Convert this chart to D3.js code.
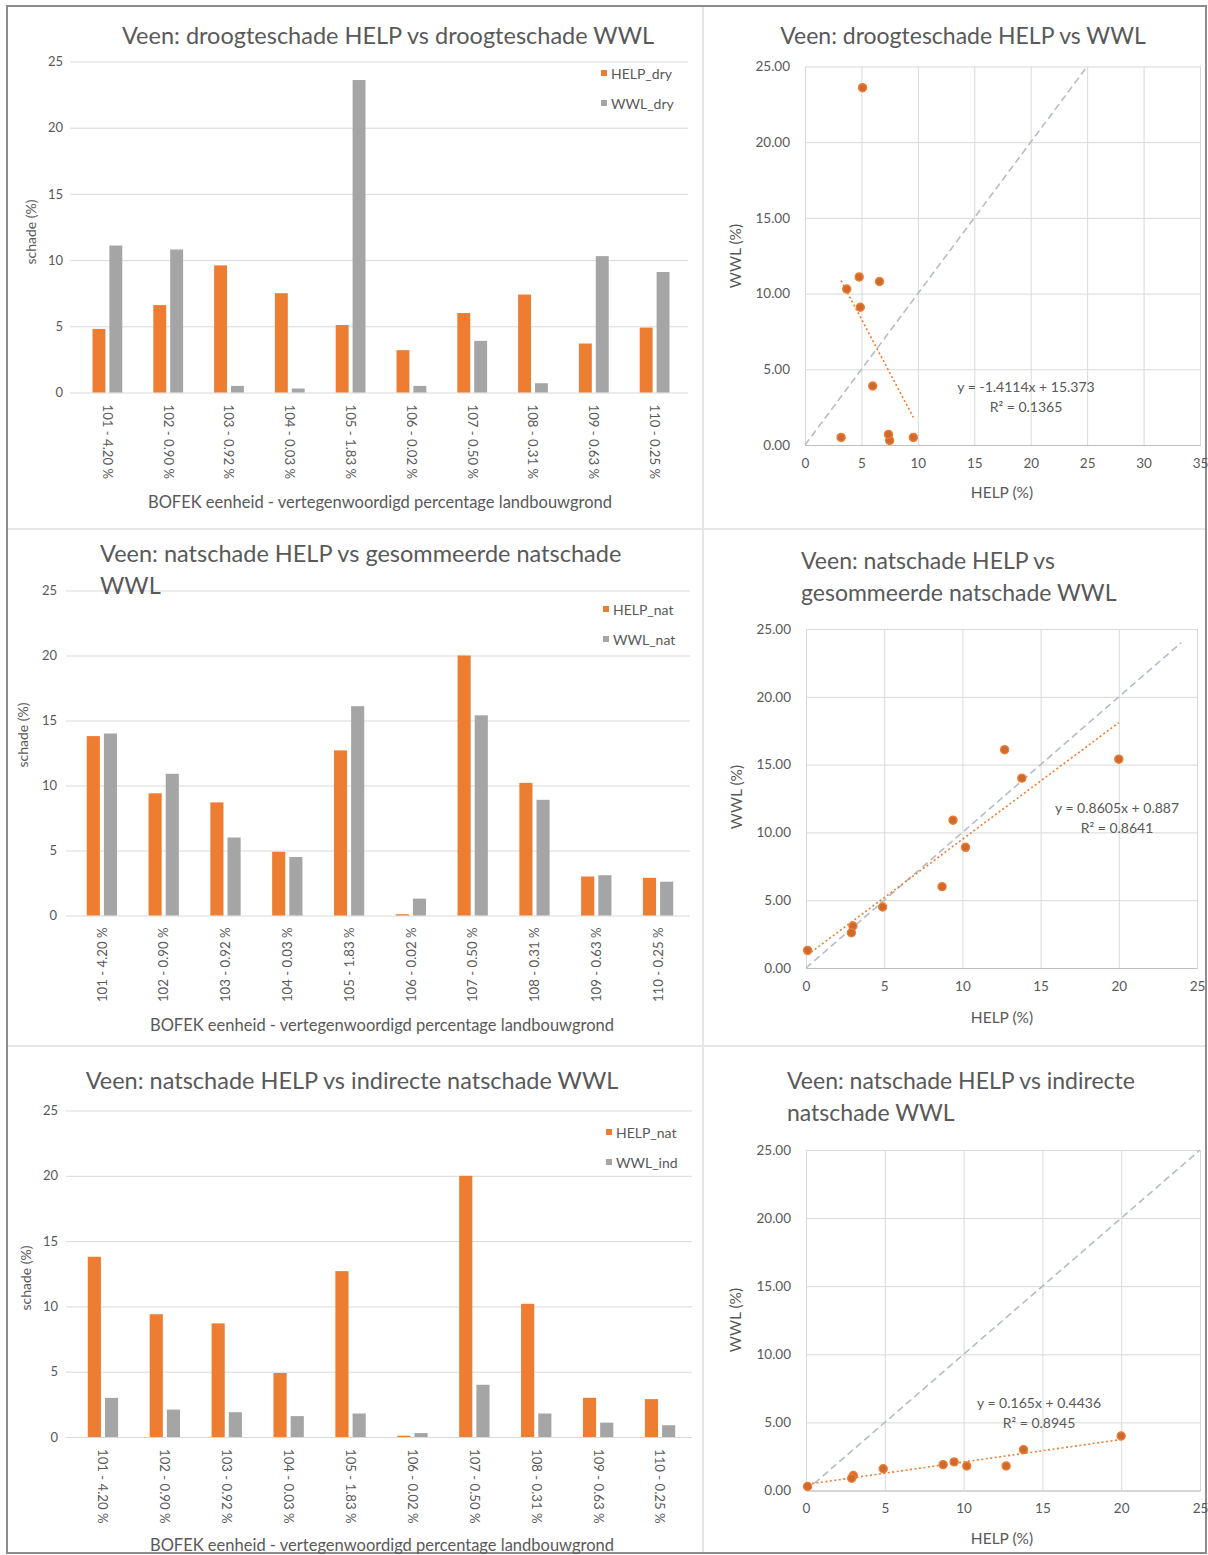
<!DOCTYPE html>
<html>
<head>
<meta charset="utf-8">
<script src="https://cdn.jsdelivr.net/npm/d3@7"></script>
<style>
  body { margin: 0; background: #ffffff; }
  svg text { font-family: Lato, "Open Sans", sans-serif; fill: #595959; }
</style>
</head>
<body>
<svg id="chart" width="1208" height="1555"></svg>
<script>
// BOFEK units (peat soils) with their share of agricultural land
const categories = ["101 - 4.20 %", "102 - 0.90 %", "103 - 0.92 %", "104 - 0.03 %", "105 - 1.83 %",
                    "106 - 0.02 %", "107 - 0.50 %", "108 - 0.31 %", "109 - 0.63 %", "110 - 0.25 %"];

// damage percentages per unit
const helpDry = [4.8, 6.6, 9.6, 7.5, 5.1, 3.2, 6.0, 7.4, 3.7, 4.9];
const wwlDry  = [11.1, 10.8, 0.5, 0.3, 23.6, 0.5, 3.9, 0.7, 10.3, 9.1];
const helpNat = [13.8, 9.4, 8.7, 4.9, 12.7, 0.1, 20.0, 10.2, 3.0, 2.9];
const wwlNat  = [14.0, 10.9, 6.0, 4.5, 16.1, 1.3, 15.4, 8.9, 3.1, 2.6];
const wwlInd  = [3.0, 2.1, 1.9, 1.6, 1.8, 0.3, 4.0, 1.8, 1.1, 0.9];

// axis ticks
const barTicks = [0, 5, 10, 15, 20, 25];
const scatterTicksY = [0, 5, 10, 15, 20, 25];
const scatterTicksXWide = [0, 5, 10, 15, 20, 25, 30, 35];
const scatterTicksXNarrow = [0, 5, 10, 15, 20, 25];

// linear trendlines (slope, intercept, R²) for the three scatter plots
const fitSlopes = [-1.4114, 0.8605, 0.165];
const fitIntercepts = [15.373, 0.887, 0.4436];
const fitR2 = ["0.1365", "0.8641", "0.8945"];
// end of the 1:1 reference line per scatter plot
const identityEnds = [25, 24, 25];

const ORANGE = "#ed7d31";
const GRAY = "#a5a5a5";
const GRID = "#d9d9d9";

const svg = d3.select("#chart");

// panel frame and separators
svg.append("rect").attr("x", 7).attr("y", 6).attr("width", 1199).attr("height", 1547)
  .attr("fill", "none").attr("stroke", "#8c8c8c").attr("stroke-width", 2);
svg.append("line").attr("x1", 703).attr("x2", 703).attr("y1", 7).attr("y2", 1552)
  .attr("stroke", "#e6e6e6").attr("stroke-width", 2);
[529, 1046].forEach(yy => svg.append("line").attr("x1", 8).attr("x2", 1205)
  .attr("y1", yy).attr("y2", yy).attr("stroke", "#e6e6e6").attr("stroke-width", 2));

function titleBlock(lines, x, y, anchor, size) {
  const t = svg.append("text").attr("text-anchor", anchor).attr("font-size", size)
    .attr("dominant-baseline", "central");
  lines.forEach((l, i) => t.append("tspan").attr("x", x).attr("y", y + i * 32).text(l));
}

function drawBars(o) {
  const g = svg.append("g");
  const y = d3.scaleLinear().domain([0, 25]).range([o.y0, o.y25]);
  const x0 = d3.scaleBand().domain(categories).range(o.xr).paddingInner(0.51).paddingOuter(0.255);
  const x1 = d3.scaleBand().domain([0, 1]).range([0, x0.bandwidth()]).paddingInner(0.235);

  // value axis with gridlines
  const ya = g.append("g").attr("transform", `translate(${o.gx[0]},0)`)
    .call(d3.axisLeft(y).tickValues(barTicks).tickFormat(d3.format("d"))
      .tickSize(-(o.gx[1] - o.gx[0])).tickPadding(o.tickPad));
  ya.select(".domain").remove();
  ya.selectAll(".tick line").attr("stroke", GRID);
  ya.selectAll(".tick text").attr("font-size", 13).attr("fill", "#595959")
    .style("font-family", "Lato, sans-serif");

  // bars
  const series = [o.a, o.b];
  const colors = [ORANGE, GRAY];
  series.forEach((vals, si) => {
    g.append("g").attr("fill", colors[si]).selectAll("rect").data(vals).join("rect")
      .attr("x", (d, j) => x0(categories[j]) + x1(si))
      .attr("width", x1.bandwidth())
      .attr("y", d => y(d))
      .attr("height", d => y(0) - y(d));
  });

  // category axis with vertical labels
  const xa = g.append("g").attr("transform", `translate(0,${o.y0})`)
    .call(d3.axisBottom(x0).tickSize(0));
  xa.select(".domain").remove();
  const lbl = xa.selectAll(".tick text").attr("font-size", 13.2).attr("fill", "#595959")
    .style("font-family", "Lato, sans-serif").attr("dy", "0.35em").attr("y", 0);
  if (o.rot > 0) {
    lbl.attr("transform", "rotate(90)").attr("text-anchor", "start").attr("x", o.labelPad);
  } else {
    lbl.attr("transform", "rotate(-90)").attr("text-anchor", "end").attr("x", -o.labelPad);
  }

  // titles
  titleBlock(o.title, o.titleX, o.titleY, o.titleAnchor, 23.5);
  g.append("text").attr("x", o.xTitle[0]).attr("y", o.xTitle[1]).attr("text-anchor", "middle")
    .attr("dominant-baseline", "central").attr("font-size", 16.5)
    .text("BOFEK eenheid - vertegenwoordigd percentage landbouwgrond");
  g.append("text").attr("transform", `translate(${o.yTitle[0]},${o.yTitle[1]}) rotate(-90)`)
    .attr("text-anchor", "middle").attr("dominant-baseline", "central").attr("font-size", 14)
    .text("schade (%)");

  // legend
  o.names.forEach((n, i) => {
    const ly = o.legend[1] + i * 30;
    g.append("rect").attr("x", o.legend[0] - 3).attr("y", ly - 3).attr("width", 6).attr("height", 6)
      .attr("fill", colors[i]);
    g.append("text").attr("x", o.legend[0] + 7).attr("y", ly).attr("dominant-baseline", "central")
      .attr("font-size", 14).text(n);
  });
}

function drawScatter(o) {
  const g = svg.append("g");
  const x = d3.scaleLinear().domain([0, o.xMax]).range(o.xr);
  const y = d3.scaleLinear().domain([0, 25]).range(o.yr);

  const ya = g.append("g").attr("transform", `translate(${o.xr[0]},0)`)
    .call(d3.axisLeft(y).tickValues(scatterTicksY).tickFormat(d3.format(".2f"))
      .tickSize(-(o.xr[1] - o.xr[0])).tickPadding(15));
  ya.select(".domain").remove();
  ya.selectAll(".tick line").attr("stroke", GRID);
  ya.selectAll(".tick text").attr("font-size", 13.5).attr("fill", "#595959")
    .style("font-family", "Lato, sans-serif");

  const xa = g.append("g").attr("transform", `translate(0,${o.yr[0]})`)
    .call(d3.axisBottom(x).tickValues(o.xTicks).tickFormat(d3.format("d"))
      .tickSize(-(o.yr[0] - o.yr[1])).tickPadding(13));
  xa.select(".domain").attr("stroke", "#bfbfbf");
  xa.selectAll(".tick line").attr("stroke", GRID);
  xa.selectAll(".tick text").attr("font-size", 13.5).attr("fill", "#595959")
    .style("font-family", "Lato, sans-serif");

  // 1:1 reference line
  g.append("line")
    .attr("x1", x(0)).attr("y1", y(0)).attr("x2", x(o.identityEnd)).attr("y2", y(o.identityEnd))
    .attr("stroke", "#b4bcc8").attr("stroke-width", 1.6).attr("stroke-dasharray", "7,4");

  // linear trendline across the data range
  const xs = d3.extent(o.xv);
  const line = d3.line().x(d => x(d)).y(d => y(o.slope * d + o.intercept));
  g.append("path").datum(xs).attr("d", line).attr("fill", "none")
    .attr("stroke", ORANGE).attr("stroke-width", 1.6).attr("stroke-dasharray", "2,2.5");

  // points
  g.append("g").selectAll("circle").data(o.xv).join("circle")
    .attr("cx", d => x(d)).attr("cy", (d, i) => y(o.yv[i])).attr("r", 4)
    .attr("fill", "#cf6a2f").attr("stroke", ORANGE).attr("stroke-width", 1.4);

  // equation
  const sign = o.intercept >= 0 ? " + " : " - ";
  g.append("text").attr("x", o.eq[0]).attr("y", o.eq[1]).attr("text-anchor", "middle")
    .attr("dominant-baseline", "central").attr("font-size", 14)
    .text(`y = ${o.slope}x${sign}${Math.abs(o.intercept)}`);
  g.append("text").attr("x", o.eq[0]).attr("y", o.eq[1] + 20).attr("text-anchor", "middle")
    .attr("dominant-baseline", "central").attr("font-size", 14)
    .text(`R² = ${o.r2}`);

  titleBlock(o.title, o.titleX, o.titleY, o.titleAnchor, 23);
  g.append("text").attr("x", o.xTitle[0]).attr("y", o.xTitle[1]).attr("text-anchor", "middle")
    .attr("dominant-baseline", "central").attr("font-size", 15.5).text("HELP (%)");
  g.append("text").attr("transform", `translate(${o.yTitle[0]},${o.yTitle[1]}) rotate(-90)`)
    .attr("text-anchor", "middle").attr("dominant-baseline", "central").attr("font-size", 15.5)
    .text("WWL (%)");
}

// droogteschade
drawBars({
  a: helpDry, b: wwlDry, names: ["HELP_dry", "WWL_dry"],
  y0: 392.5, y25: 61.5, xr: [77, 685], gx: [70, 688], tickPad: 7,
  rot: 90, labelPad: 12,
  title: ["Veen: droogteschade HELP vs droogteschade WWL"], titleX: 388, titleY: 35, titleAnchor: "middle",
  xTitle: [380, 502], yTitle: [30, 232], legend: [604, 73]
});
drawScatter({
  xv: helpDry, yv: wwlDry, xMax: 35, xTicks: scatterTicksXWide,
  xr: [805, 1200], yr: [445, 66.5],
  slope: fitSlopes[0], intercept: fitIntercepts[0], r2: fitR2[0], identityEnd: identityEnds[0],
  title: ["Veen: droogteschade HELP vs WWL"], titleX: 963, titleY: 35, titleAnchor: "middle",
  eq: [1026, 386], xTitle: [1002, 492], yTitle: [735, 256]
});

// gesommeerde natschade
drawBars({
  a: helpNat, b: wwlNat, names: ["HELP_nat", "WWL_nat"],
  y0: 915.5, y25: 590.5, xr: [71, 689], gx: [66, 690], tickPad: 9,
  rot: -90, labelPad: 12,
  title: ["Veen: natschade HELP vs gesommeerde natschade", "WWL"], titleX: 100, titleY: 553, titleAnchor: "start",
  xTitle: [382, 1025], yTitle: [22, 735], legend: [606, 609]
});
drawScatter({
  xv: helpNat, yv: wwlNat, xMax: 25, xTicks: scatterTicksXNarrow,
  xr: [806, 1197], yr: [968, 629],
  slope: fitSlopes[1], intercept: fitIntercepts[1], r2: fitR2[1], identityEnd: identityEnds[1],
  title: ["Veen: natschade HELP vs", "gesommeerde natschade WWL"], titleX: 801, titleY: 560, titleAnchor: "start",
  eq: [1117, 807], xTitle: [1002, 1017], yTitle: [736, 797]
});

// indirecte natschade
drawBars({
  a: helpNat, b: wwlInd, names: ["HELP_nat", "WWL_ind"],
  y0: 1437, y25: 1110.5, xr: [72, 691], gx: [66, 692], tickPad: 8,
  rot: 90, labelPad: 12,
  title: ["Veen: natschade HELP vs indirecte natschade WWL"], titleX: 352, titleY: 1080, titleAnchor: "middle",
  xTitle: [382, 1545], yTitle: [25, 1278], legend: [609, 1132]
});
drawScatter({
  xv: helpNat, yv: wwlInd, xMax: 25, xTicks: scatterTicksXNarrow,
  xr: [806, 1200], yr: [1490.5, 1150],
  slope: fitSlopes[2], intercept: fitIntercepts[2], r2: fitR2[2], identityEnd: identityEnds[2],
  title: ["Veen: natschade HELP vs indirecte", "natschade WWL"], titleX: 787, titleY: 1080, titleAnchor: "start",
  eq: [1039, 1402], xTitle: [1002, 1538], yTitle: [735, 1320]
});
</script>
</body>
</html>
